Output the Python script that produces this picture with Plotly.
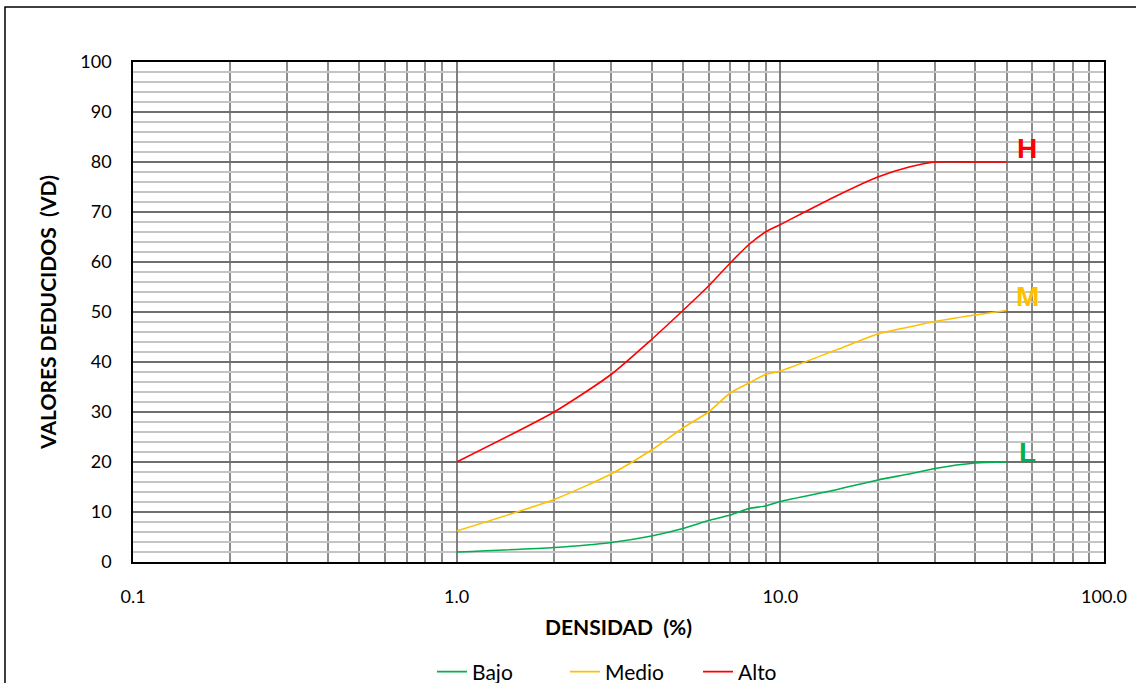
import math
import plotly.graph_objects as go

densidad = [1, 2, 3, 4, 5, 6, 7, 8, 9, 10, 15, 20, 25, 30, 40, 50]
bajo =  [2.0, 2.9, 3.9, 5.2, 6.7, 8.3, 9.4, 10.7, 11.2, 12.1, 14.5, 16.4, 17.6, 18.7, 19.8, 20.0]
medio = [6.2, 12.5, 17.6, 22.4, 26.8, 30.0, 33.8, 35.8, 37.5, 38.2, 42.5, 45.6, 47.0, 48.1, 49.4, 50.3]
alto =  [20.0, 30.0, 37.5, 44.5, 50.3, 55.2, 59.8, 63.5, 66.0, 67.5, 73.3, 77.0, 79.0, 80.0, 80.0, 80.0]

series = [("Bajo", bajo, "#00B050"), ("Medio", medio, "#FFC000"), ("Alto", alto, "#FF0000")]
end_labels = [("H", 82.8, "#FF0000"), ("M", 53.2, "#FFC000"), ("L", 22.0, "#00B050")]
label_x = 58.0

x_tickvals = [0.1, 1, 10, 100]
x_ticktext = ["0.1", "1.0", "10.0", "100.0"]

font = "Lato, 'Open Sans', sans-serif"

fig = go.Figure()
for name, vals, col in series:
    fig.add_trace(go.Scatter(x=densidad, y=vals, name=name, mode="lines",
                             line=dict(color=col, width=1.6, shape="spline", smoothing=0.6)))

for txt, yv, col in end_labels:
    fig.add_annotation(x=math.log10(label_x), y=yv, text="<b>%s</b>" % txt,
                       showarrow=False, font=dict(size=28, color=col, family="Arial"))

fig.update_xaxes(type="log", range=[-1, 2], tickvals=x_tickvals, ticktext=x_ticktext,
                 showgrid=True, gridcolor="#7f7f7f", gridwidth=1.8,
                 minor=dict(dtick="D1", showgrid=True, gridcolor="#8c8c8c", gridwidth=1.5, ticks=""),
                 showline=True, linecolor="#000000", linewidth=1.5, mirror=True,
                 ticks="outside", ticklen=18, tickcolor="rgba(0,0,0,0)",
                 tickfont=dict(size=18, family=font, color="#000"),
                 title=dict(text="<b>DENSIDAD  (%)</b>", font=dict(size=21, family=font, color="#000"), standoff=14),
                 zeroline=False)
fig.update_yaxes(range=[0, 100], dtick=10, showgrid=True, gridcolor="#6f6f6f", gridwidth=1.8,
                 minor=dict(dtick=2, showgrid=True, gridcolor="#c4c4c4", gridwidth=1.8, ticks=""),
                 showline=True, linecolor="#000000", linewidth=1.5, mirror=True,
                 ticks="outside", ticklen=16, tickcolor="rgba(0,0,0,0)",
                 tickfont=dict(size=18, family=font, color="#000"),
                 title=dict(text="<b>VALORES DEDUCIDOS  (VD)</b>", font=dict(size=21, family=font, color="#000"), standoff=18),
                 zeroline=False)

fig.add_shape(type="rect", xref="paper", yref="paper",
              x0=(5 - 133) / 971, x1=(1180 - 133) / 971,
              y0=(562 - 720) / 500, y1=1 + (62 - 7) / 500,
              line=dict(color="#000", width=1.5), layer="below")

fig.update_layout(width=1136, height=683,
                  margin=dict(l=133, r=32, t=62, b=121, autoexpand=False),
                  paper_bgcolor="white", plot_bgcolor="white",
                  legend=dict(orientation="h", x=(432 - 133) / 971, xanchor="left", y=-0.22, yanchor="middle",
                              bgcolor="rgba(0,0,0,0)", entrywidth=88, entrywidthmode="pixels",
                              font=dict(size=21, family=font, color="#000")),
                  showlegend=True)

fig.write_html("out.html", config={"displayModeBar": False},
               post_script="document.body.style.margin='0';")
